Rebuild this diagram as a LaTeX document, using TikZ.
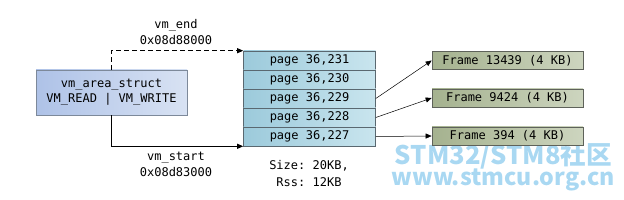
\documentclass[tikz,border=0pt]{standalone}
\usepackage{fontspec}
\usepackage{graphicx}
\setmonofont{DejaVu Sans Mono}
\newfontfamily\cjkwm{Noto Sans CJK SC}
\usetikzlibrary{arrows.meta}
\definecolor{vmL}{HTML}{AEC2E7}
\definecolor{vmR}{HTML}{D8E2F3}
\definecolor{vmB}{HTML}{7D899A}
\definecolor{pgL}{HTML}{9CCADB}
\definecolor{pgR}{HTML}{C9E5EE}
\definecolor{pgB}{HTML}{5A6870}
\definecolor{frL}{HTML}{A5B28F}
\definecolor{frR}{HTML}{CDD5BF}
\definecolor{frB}{HTML}{5E625A}
\definecolor{wm}{HTML}{A9D8F2}
\tikzset{
  x=1pt, y=-1pt,
  every node/.style={font=\ttfamily\fontsize{12}{13}\selectfont, inner sep=0pt},
  vmbox/.style={draw=vmB, line width=0.8pt, left color=vmL, right color=vmR, minimum width=151pt, minimum height=45pt, align=center},
  pagebox/.style={draw=pgB, line width=0.6pt, left color=pgL, right color=pgR, minimum width=132pt, minimum height=19pt},
  framebox/.style={draw=frB, line width=0.6pt, left color=frL, right color=frR, minimum width=151pt, minimum height=18pt},
  arr/.style={-{Triangle[length=6pt,width=5pt]}, line width=0.7pt},
  lbl/.style={align=center},
  wmtext/.style={font=\cjkwm\bfseries, text=wm, anchor=base}
}
\begin{document}
\begin{tikzpicture}
\useasboundingbox (0,0) rectangle (624,200);
% watermark
\node[wmtext] (wm1) at (503.5,165) {\resizebox{217pt}{!}{STM32/STM8社区}};
\node[wmtext] (wm2) at (503.5,186) {\resizebox{223pt}{!}{www.stmcu.org.cn}};
% vm area struct
\node[vmbox] (vm) at (111.5,92.5) {vm\_area\_struct\\[2pt]VM\_READ | VM\_WRITE};
% pages
\node[pagebox] (p1) at (309.5,60.5) {page 36,231};
\node[pagebox] (p2) at (309.5,79.5) {page 36,230};
\node[pagebox] (p3) at (309.5,98.5) {page 36,229};
\node[pagebox] (p4) at (309.5,117.5) {page 36,228};
\node[pagebox] (p5) at (309.5,136.5) {page 36,227};
\node[lbl] (size) at (309,173.5) {Size: 20KB,\\[4pt]Rss: 12KB};
% frames
\node[framebox] (f1) at (507.5,60.5) {Frame 13439 (4 KB)};
\node[framebox] (f2) at (507.5,98) {Frame 9424 (4 KB)};
\node[framebox] (f3) at (507.5,136) {Frame 394 (4 KB)};
% labels
\node[lbl] (lend) at (176,32) {vm\_end\\[3pt]0x08d88000};
\node[lbl] (lstart) at (176,164) {vm\_start\\[3pt]0x08d83000};
% connectors
\coordinate (ctop) at (111,51);
\coordinate (cbot) at (111,145);
\draw[arr, dashed, dash pattern=on 5pt off 3pt] (vm.north -| ctop) |- (p1.north west);
\draw[arr] (vm.south -| cbot) |- (p5.south west);
\draw[arr, line width=0.5pt] (p3.east) -- (f1.west);
\draw[arr, line width=0.5pt] (p4.east) -- (f2.west);
\draw[arr, line width=0.5pt] (p5.east) -- (f3.west);
\end{tikzpicture}
\end{document}
